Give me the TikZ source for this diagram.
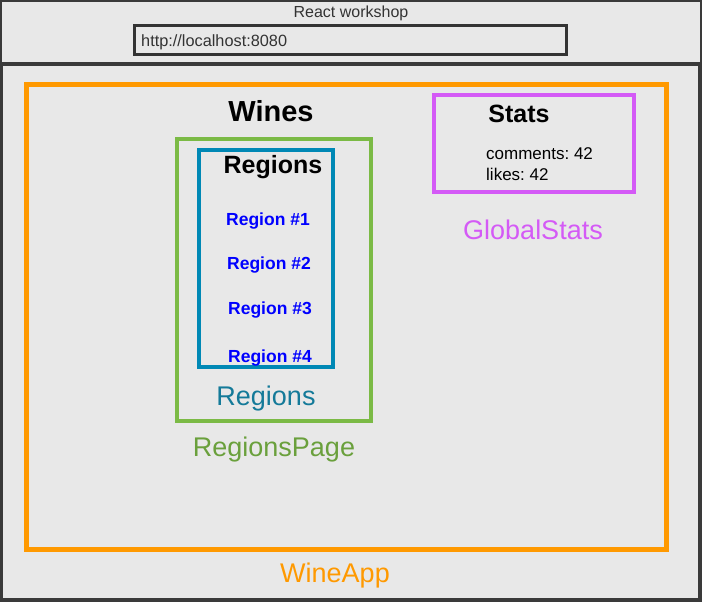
\documentclass[tikz,border=0pt]{standalone}
\usepackage{fontspec}
\setmainfont{Liberation Sans}
\frenchspacing

\definecolor{windowdark}{HTML}{3A3A3A}
\definecolor{windowgray}{HTML}{E8E8E8}
\definecolor{textdark}{HTML}{333333}
\definecolor{appOrange}{HTML}{FF9900}
\definecolor{pageGreen}{HTML}{7BBA45}
\definecolor{pageGreenText}{HTML}{6AA03C}
\definecolor{listBlue}{HTML}{0088B5}
\definecolor{listBlueText}{HTML}{147A99}
\definecolor{statsPurple}{HTML}{D45AF6}
\definecolor{regionBlue}{HTML}{0000FF}

\tikzset{
  frame/.style = {draw=#1, line width=4.5pt, inner sep=0pt},
  caption/.style = {text=#1, inner sep=0pt, font=\fontsize{27}{30}\selectfont},
  heading/.style = {inner sep=0pt, font=\bfseries\fontsize{25}{28}\selectfont},
  entry/.style = {text=regionBlue, inner sep=0pt, font=\bfseries\fontsize{17.5}{20}\selectfont},
  plain/.style = {inner sep=0pt, anchor=west, font=\fontsize{17}{19}\selectfont}
}

\begin{document}
\begin{tikzpicture}[x=1pt,y=-1pt]
      % Window
      \fill[windowdark] (0,0) rectangle (702,602);
      \fill[windowgray] (2,2) rectangle (700,62);
      \fill[windowgray] (3,66) rectangle (698,598);
      \node[inner sep=0pt, text=textdark, font=\fontsize{16}{18}\selectfont] (browser) at (351,13) {React workshop};
      \node[draw=textdark, line width=3pt, inner sep=0pt, minimum width=432pt, minimum height=29pt] (urlbar) at (350.5,40) {};
      \node[plain, text=textdark, font=\fontsize{16.3}{18}\selectfont] (url) at (141,42) {http://localhost:8080};

      % Components
      \node[frame=appOrange, line width=5pt, minimum width=640pt, minimum height=464pt] (wineapp) at (346,317) {};
      \node[frame=pageGreen, minimum width=194pt, minimum height=282pt] (regionspage) at (274,280) {};
      \node[frame=listBlue, minimum width=134pt, minimum height=217pt] (regions) at (266,258.5) {};
      \node[frame=statsPurple, minimum width=200pt, minimum height=97pt] (globalstats) at (534,143.5) {};

      % Contents
      \node[heading, font=\bfseries\fontsize{29}{32}\selectfont] (wines) at (271,111) {Wines};
      \node[heading] (regionstitle) at (273,167) {Regions};
      \node[entry] (region1) at (268,221) {Region \#1};
      \node[entry] (region2) at (269,265) {Region \#2};
      \node[entry] (region3) at (270,310) {Region \#3};
      \node[entry] (region4) at (270,358) {Region \#4};
      \node[heading] (statstitle) at (519,114) {Stats};
      \node[plain] (comments) at (486,154) {comments: 42};
      \node[plain] (likes) at (486,174) {likes: 42};

      % Captions
      \node[caption=listBlueText] (regionslabel) at (266,399) {Regions};
      \node[caption=pageGreenText] (regionspagelabel) at (274,450) {RegionsPage};
      \node[caption=statsPurple] (globalstatslabel) at (533,230) {GlobalStats};
      \node[caption=appOrange] (wineapplabel) at (335,576) {WineApp};
\end{tikzpicture}
\end{document}
